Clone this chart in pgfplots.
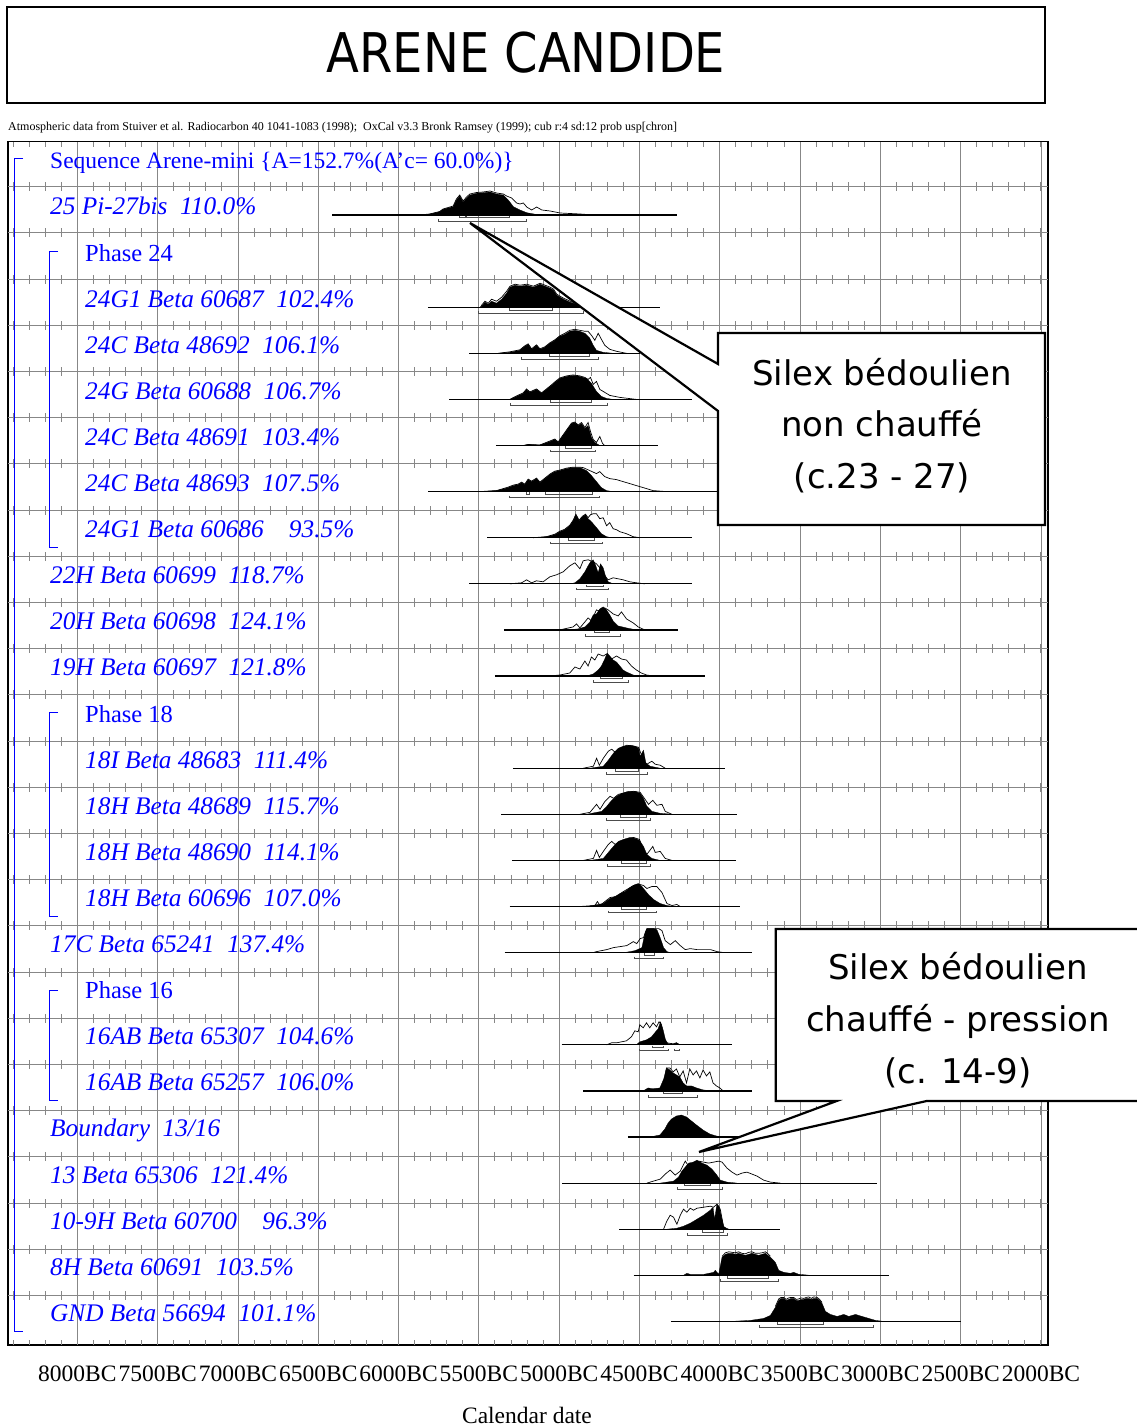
\documentclass[border=0pt]{standalone}
\usepackage{pgfplots}
\pgfplotsset{compat=1.18}
\usepackage{fontspec}
\setmainfont{Liberation Serif}
\newfontfamily\dv{DejaVu Sans}
\definecolor{gridc}{RGB}{135,135,135}
\pgfplotsset{
  rowy/.style={y filter/.expression={168.9+46.1*#1-y}},
  base/.style={black, line width=1.2pt},
  post/.style={fill=black, draw=black, line width=0.3pt},
  lik/.style={black, line width=0.7pt},
  rng/.style={black!70, line width=0.8pt},
}
\begin{document}
\begin{tikzpicture}[x=1pt,y=1pt]
\begin{axis}[
  scale only axis, width=1040pt, height=1203.3pt,
  xmin=1956, xmax=8432, x dir=reverse,
  ymin=141.7, ymax=1345, y dir=reverse,
  xtick={2000,2500,...,8000},
  xticklabels={2000BC,2500BC,3000BC,3500BC,4000BC,4500BC,5000BC,5500BC,6000BC,6500BC,7000BC,7500BC,8000BC},
  ytick=\empty,
  major tick length=0pt,
  xmajorgrids, grid style={gridc, line width=0.9pt},
  axis line style={black, line width=1.2pt},
  xticklabel style={font=\fontsize{23.5}{25}\selectfont, anchor=base, yshift=-36pt},
]
% row lines with 100-year ticks
\pgfplotsinvokeforeach{0,...,24}{
  \draw[gridc, line width=0.9pt] (axis cs:8432,{186.7+46.2*#1}) -- (axis cs:1956,{186.7+46.2*#1});
  \draw[gridc, line width=9pt, dash pattern=on 0.9pt off 15.159pt, dash phase=0.45pt] (axis cs:8400,{186.7+46.2*#1}) -- (axis cs:1960,{186.7+46.2*#1});
}
\draw[gridc, line width=5pt, dash pattern=on 0.9pt off 15.159pt, dash phase=0.45pt] (axis cs:8400,144.2) -- (axis cs:1960,144.2);
\draw[gridc, line width=5pt, dash pattern=on 0.9pt off 15.159pt, dash phase=0.45pt] (axis cs:8400,1342.5) -- (axis cs:1960,1342.5);

% ---- row 1: 25 Pi-27bis
\addplot[base,rowy=1] coordinates {(6414,0)(4269,0)};
\addplot[post,rowy=1] coordinates {(5869,0)(5806,1)(5744,3.3)(5723,5.7)(5660,8.3)(5640,15)(5619,19)(5598,13)(5577,16.7)(5556,20)(5515,21.7)(5473,22.3)(5431,23)(5390,21)(5348,20)(5317,15)(5285,8.3)(5244,5)(5202,2.3)(5140,0.5)(5077,0)};
\addplot[lik,rowy=1] coordinates {(5869,0)(5806,1)(5744,3.5)(5723,6)(5660,9)(5640,16)(5619,20)(5598,14)(5577,18)(5556,21)(5515,22.5)(5473,23)(5431,24)(5390,22)(5348,21)(5327,19)(5296,17)(5265,12)(5244,11)(5223,12)(5202,8)(5171,5)(5140,8)(5108,5)(5056,4)(4994,2)(4869,1)(4786,0)};
\addplot[rng,rowy=1] coordinates {(5623,-0.7)(5623,-2.7)(5583,-2.7)(5583,-0.7)};
\addplot[rng,rowy=1] coordinates {(5577,-0.7)(5577,-2.7)(5310,-2.7)(5310,-0.7)};
\addplot[rng,rowy=1] coordinates {(5754,-4)(5754,-6)(5202,-6)(5202,-4)};

% ---- row 3
\addplot[base,rowy=3] coordinates {(5817,0)(4373,0)};
\addplot[post,rowy=3] coordinates {(5490,0)(5483,1)(5462,5)(5442,3)(5421,6)(5390,4)(5358,8)(5327,14)(5306,20)(5275,22)(5244,21)(5202,22)(5160,20)(5119,23)(5088,21)(5056,19)(5035,17)(5015,12)(4973,8)(4931,5)(4869,2)(4827,0)};
\addplot[lik,rowy=3] coordinates {(5490,0)(5483,2)(5462,6)(5442,4)(5421,8)(5390,6)(5358,10)(5327,16)(5306,21)(5275,23)(5244,22)(5202,23)(5160,21)(5119,24)(5088,22)(5056,20)(5035,18)(5015,13)(4973,9)(4931,6)(4869,2)(4827,0)};
\addplot[rng,rowy=3] coordinates {(5313,-0.7)(5313,-2.7)(5044,-2.7)(5044,-0.7)};
\addplot[rng,rowy=3] coordinates {(5500,-4)(5500,-6)(4851,-6)(4851,-4)};

% ---- row 4
\addplot[base,rowy=4] coordinates {(5560,0)(4498,0)};
\addplot[post,rowy=4] coordinates {(5380,0)(5307,1)(5245,3)(5214,7)(5193,9)(5172,4)(5141,8)(5120,4)(5089,6)(5058,10)(5027,13)(4996,17)(4965,19)(4934,22)(4902,23)(4871,22)(4840,20)(4809,15)(4788,8)(4768,3)(4726,1)(4664,0)};
\addplot[lik,rowy=4] coordinates {(5380,0)(5307,1.5)(5245,3.5)(5214,7.5)(5193,9.5)(5172,4.5)(5141,8.5)(5120,4.5)(5089,6.5)(5058,10.5)(5027,13.5)(4996,17.5)(4965,20)(4934,23)(4902,24)(4871,23)(4840,22)(4820,22)(4799,18)(4778,13)(4757,20)(4737,14)(4716,8)(4685,4)(4643,2)(4581,0)};
\addplot[rng,rowy=4] coordinates {(5058,-0.7)(5058,-2.7)(4809,-2.7)(4809,-0.7)};
\addplot[rng,rowy=4] coordinates {(5234,-4)(5234,-6)(4757,-6)(4757,-4)};

% ---- row 5
\addplot[base,rowy=5] coordinates {(5685,0)(4170,0)};
\addplot[post,rowy=5] coordinates {(5307,0)(5266,3)(5224,6)(5203,10)(5183,7)(5141,10)(5110,6)(5079,10)(5048,14)(5027,17)(4996,21)(4954,23)(4913,24)(4871,23)(4830,21)(4799,16)(4768,8)(4737,3)(4705,1)(4664,0)};
\addplot[lik,rowy=5] coordinates {(5307,0)(5266,3.5)(5224,6.5)(5203,10.5)(5183,7.5)(5141,10.5)(5110,6.5)(5079,10.5)(5048,14.5)(5027,17.5)(4996,21.5)(4954,23.5)(4913,24.5)(4871,23.5)(4840,22)(4820,20)(4805,22)(4788,15)(4768,18)(4747,10)(4726,8)(4685,4)(4622,2)(4519,0)};
\addplot[rng,rowy=5] coordinates {(5052,-0.7)(5052,-2.7)(4799,-2.7)(4799,-0.7)};
\addplot[rng,rowy=5] coordinates {(5303,-4)(5303,-6)(4701,-6)(4701,-4)};

% ---- row 6
\addplot[base,rowy=6] coordinates {(5394,0)(4382,0)};
\addplot[post,rowy=6] coordinates {(5224,0)(5193,1)(5120,0.5)(5058,4)(5027,6)(5006,3)(4985,8)(4954,15)(4923,22)(4902,23)(4882,20)(4861,22)(4840,17)(4820,20)(4799,8)(4778,3)(4747,0)};
\addplot[lik,rowy=6] coordinates {(5224,0)(5193,1)(5120,0.5)(5058,4.5)(5027,6.5)(5006,3.5)(4985,8.5)(4954,15.5)(4923,22.5)(4902,23.5)(4882,20.5)(4861,23)(4840,18)(4820,23)(4805,14)(4788,6)(4768,3)(4747,9)(4730,2)(4716,0)};
\addplot[rng,rowy=6] coordinates {(4961,-0.7)(4961,-2.7)(4799,-2.7)(4799,-0.7)};
\addplot[rng,rowy=6] coordinates {(5052,-4)(5052,-6)(4772,-6)(4772,-4)};

% ---- row 7
\addplot[base,rowy=7] coordinates {(5815,0)(3900,0)};
\addplot[post,rowy=7] coordinates {(5494,0)(5390,1)(5317,4)(5286,6)(5255,7)(5234,9)(5214,7)(5193,12)(5172,10)(5141,13)(5120,9)(5089,13)(5058,17)(5027,20)(4996,21)(4954,23)(4913,24)(4871,24)(4830,21)(4799,16)(4768,10)(4737,4)(4705,1)(4664,0)};
\addplot[lik,rowy=7] coordinates {(5494,0)(5390,1)(5317,4.5)(5286,6.5)(5255,7.5)(5234,9.5)(5214,7.5)(5193,12.5)(5172,10.5)(5141,13.5)(5120,9.5)(5089,13.5)(5058,17.5)(5027,20.5)(4996,21.5)(4954,23.5)(4913,24.5)(4871,24.5)(4851,24)(4809,21)(4768,18)(4747,20)(4716,15)(4685,13)(4643,12)(4602,10)(4560,8)(4519,6)(4477,4)(4415,1)(4332,0)};
\addplot[rng,rowy=7] coordinates {(5083,-0.7)(5083,-2.7)(4793,-2.7)(4793,-0.7)};
\addplot[rng,rowy=7] coordinates {(5203,-0.7)(5203,-2.7)(5183,-2.7)(5183,-0.7)};
\addplot[rng,rowy=7] coordinates {(5307,-4)(5307,-6)(4747,-6)(4747,-4)};

% ---- row 8
\addplot[base,rowy=8] coordinates {(5448,0)(4170,0)};
\addplot[post,rowy=8] coordinates {(5162,0)(5079,1)(5027,3)(4996,6)(4965,8)(4934,12)(4913,17)(4896,23)(4876,17)(4855,21)(4836,23)(4820,19)(4799,16)(4778,12)(4757,8)(4737,4)(4705,1)(4674,0)};
\addplot[lik,rowy=8] coordinates {(5162,0)(5079,1)(5027,3.5)(4996,6.5)(4965,8.5)(4934,12.5)(4913,17.5)(4896,23.5)(4876,17.5)(4855,21.5)(4836,23.5)(4820,20)(4805,23)(4788,24)(4768,24)(4747,19)(4726,20)(4705,12)(4685,15)(4664,9)(4643,8)(4622,6)(4581,4)(4539,1)(4498,0)};
\addplot[rng,rowy=8] coordinates {(4944,-0.7)(4944,-2.7)(4782,-2.7)(4782,-0.7)};
\addplot[rng,rowy=8] coordinates {(5052,-4)(5052,-6)(4732,-6)(4732,-4)};

% ---- row 9
\addplot[base,rowy=9] coordinates {(5560,0)(4176,0)};
\addplot[lik,rowy=9] coordinates {(5307,0)(5234,1)(5203,4)(5172,1)(5141,3)(5100,2)(5058,7)(5017,9)(4975,12)(4934,18)(4902,21)(4871,15)(4851,23)(4820,24)(4788,22)(4768,20)(4747,16)(4726,10)(4695,4)(4664,6)(4633,5)(4602,4)(4560,2)(4519,1)(4467,0)};
\addplot[post,rowy=9] coordinates {(4934,0)(4902,1)(4871,5)(4840,12)(4820,18)(4805,22)(4788,24)(4772,18)(4757,11)(4743,20)(4726,16)(4712,8)(4695,2)(4664,0)};
\addplot[rng,rowy=9] coordinates {(4830,-0.7)(4830,-2.7)(4722,-2.7)(4722,-0.7)};
\addplot[rng,rowy=9] coordinates {(4892,-4)(4892,-6)(4691,-6)(4691,-4)};

% ---- row 10
\addplot[base,rowy=10] coordinates {(5344,0)(4259,0)};
\addplot[lik,rowy=10] coordinates {(4996,0)(4913,3)(4892,6)(4871,2)(4840,8)(4820,12)(4799,9)(4768,20)(4737,18)(4716,22)(4695,20)(4664,16)(4633,14)(4612,18)(4581,11)(4560,9)(4539,7)(4508,3)(4467,0)};
\addplot[post,rowy=10] coordinates {(4954,0)(4882,1)(4840,3)(4809,8)(4788,15)(4768,16)(4747,21)(4726,23)(4705,20)(4685,15)(4664,9)(4633,4)(4581,2)(4519,0)};
\addplot[rng,rowy=10] coordinates {(4782,-0.7)(4782,-2.7)(4689,-2.7)(4689,-0.7)};
\addplot[rng,rowy=10] coordinates {(4834,-4)(4834,-6)(4618,-6)(4618,-4)};

% ---- row 11
\addplot[base,rowy=11] coordinates {(5400,0)(4089,0)};
\addplot[lik,rowy=11] coordinates {(5058,0)(4996,1)(4934,3)(4902,9)(4871,7)(4840,15)(4820,10)(4799,19)(4778,16)(4757,22)(4726,20)(4705,22)(4674,17)(4643,20)(4612,17)(4581,16)(4550,10)(4519,6)(4488,3)(4456,1)(4415,0)};
\addplot[post,rowy=11] coordinates {(4830,0)(4788,2)(4757,6)(4737,10)(4716,17)(4701,23)(4685,20)(4664,16)(4643,14)(4622,10)(4602,6)(4581,4)(4539,1)(4498,0)};
\addplot[rng,rowy=11] coordinates {(4743,-0.7)(4743,-2.7)(4608,-2.7)(4608,-0.7)};
\addplot[rng,rowy=11] coordinates {(4784,-4)(4784,-6)(4571,-6)(4571,-4)};

% ---- row 13
\addplot[base,rowy=13] coordinates {(5288,0)(3965,0)};
\addplot[lik,rowy=13] coordinates {(4850,0)(4787,2)(4767,10)(4750,3)(4725,10)(4694,17)(4673,19)(4652,16)(4621,20)(4579,23)(4538,22)(4506,21)(4475,8)(4454,4)(4423,7)(4402,4)(4371,3)(4340,0)};
\addplot[post,rowy=13] coordinates {(4808,0)(4725,2)(4694,8)(4662,15)(4631,20)(4600,22)(4558,23)(4527,22)(4506,20)(4496,12)(4475,18)(4460,5)(4433,2)(4371,0)};
\addplot[rng,rowy=13] coordinates {(4652,-0.7)(4652,-2.7)(4506,-2.7)(4506,-0.7)};
\addplot[rng,rowy=13] coordinates {(4708,-4)(4708,-6)(4450,-6)(4450,-4)};

% ---- row 14
\addplot[base,rowy=14] coordinates {(5360,0)(3892,0)};
\addplot[lik,rowy=14] coordinates {(4871,0)(4808,2)(4767,10)(4746,5)(4715,13)(4683,18)(4662,16)(4631,20)(4579,22)(4538,23)(4496,22)(4465,15)(4444,10)(4417,14)(4392,9)(4360,10)(4340,3)(4298,0)};
\addplot[post,rowy=14] coordinates {(4829,0)(4735,3)(4704,8)(4673,14)(4642,18)(4610,21)(4569,23)(4527,23)(4496,21)(4475,16)(4454,8)(4423,3)(4371,1)(4288,0)};
\addplot[rng,rowy=14] coordinates {(4621,-0.7)(4621,-2.7)(4458,-2.7)(4458,-0.7)};
\addplot[rng,rowy=14] coordinates {(4708,-4)(4708,-6)(4429,-6)(4429,-4)};

% ---- row 15
\addplot[base,rowy=15] coordinates {(5294,0)(3902,0)};
\addplot[lik,rowy=15] coordinates {(4850,0)(4787,2)(4767,10)(4750,3)(4725,9)(4694,16)(4673,19)(4652,16)(4621,19)(4579,21)(4538,23)(4500,21)(4475,10)(4454,6)(4417,14)(4402,8)(4371,9)(4340,2)(4298,0)};
\addplot[post,rowy=15] coordinates {(4808,0)(4725,2)(4694,8)(4662,14)(4631,19)(4600,21)(4558,23)(4527,22)(4500,20)(4475,14)(4454,6)(4423,2)(4371,0)};
\addplot[rng,rowy=15] coordinates {(4610,-0.7)(4610,-2.7)(4460,-2.7)(4460,-0.7)};
\addplot[rng,rowy=15] coordinates {(4700,-4)(4700,-6)(4429,-6)(4429,-4)};

% ---- row 16
\addplot[base,rowy=16] coordinates {(5308,0)(3871,0)};
\addplot[lik,rowy=16] coordinates {(4871,0)(4777,1)(4762,5)(4746,1)(4715,5)(4683,9)(4642,10)(4610,14)(4579,17)(4538,21)(4496,22)(4475,21)(4454,18)(4423,20)(4392,20)(4360,14)(4329,3)(4298,1)(4267,2)(4246,0)};
\addplot[post,rowy=16] coordinates {(4829,0)(4725,3)(4683,8)(4652,10)(4621,13)(4590,15)(4558,19)(4527,22)(4506,23)(4485,20)(4465,16)(4444,12)(4412,7)(4371,3)(4329,1)(4288,0)};
\addplot[rng,rowy=16] coordinates {(4610,-0.7)(4610,-2.7)(4454,-2.7)(4454,-0.7)};
\addplot[rng,rowy=16] coordinates {(4694,-4)(4694,-6)(4396,-6)(4396,-4)};

% ---- row 17
\addplot[base,rowy=17] coordinates {(5340,0)(3800,0)};
\addplot[lik,rowy=17] coordinates {(4788,0)(4767,1)(4704,3)(4662,5)(4621,6)(4579,7)(4538,11)(4517,9)(4496,14)(4475,15)(4454,24)(4412,24)(4381,24)(4360,22)(4340,12)(4308,8)(4277,12)(4246,7)(4215,3)(4183,4)(4142,3)(4100,3)(4058,3)(4017,1)(3975,0)};
\addplot[post,rowy=17] coordinates {(4600,0)(4558,1)(4527,2)(4485,5)(4465,20)(4454,24)(4412,24)(4392,23)(4371,15)(4350,5)(4329,1)(4308,0)};
\addplot[rng,rowy=17] coordinates {(4471,-0.7)(4471,-2.7)(4408,-2.7)(4408,-0.7)};
\addplot[rng,rowy=17] coordinates {(4533,-4)(4533,-6)(4350,-6)(4350,-4)};

% ---- row 19
\addplot[base,rowy=19] coordinates {(4985,0)(3921,0)};
\addplot[lik,rowy=19] coordinates {(4705,0)(4674,2)(4643,2)(4612,3)(4581,4)(4550,8)(4529,14)(4508,13)(4498,20)(4477,17)(4456,22)(4436,17)(4415,22)(4394,18)(4378,23)(4363,20)(4349,8)(4332,2)(4290,1)(4270,2)(4249,0)};
\addplot[post,rowy=19] coordinates {(4519,0)(4498,3)(4456,5)(4425,8)(4405,12)(4384,16)(4369,23)(4353,15)(4338,5)(4322,1)(4290,0.5)(4270,2)(4249,0)};
\addplot[rng,rowy=19] coordinates {(4421,-0.7)(4421,-2.7)(4349,-2.7)(4349,-0.7)};
\addplot[rng,rowy=19] coordinates {(4498,-4)(4498,-6)(4322,-6)(4322,-4)};
\addplot[rng,rowy=19] coordinates {(4284,-4)(4284,-6)(4253,-6)(4253,-4)};

% ---- row 20
\addplot[base,rowy=20] coordinates {(4851,0)(3800,0)};
\addplot[lik,rowy=20] coordinates {(4456,0)(4415,2)(4353,2)(4332,23)(4311,23)(4290,19)(4270,22)(4249,14)(4228,20)(4207,8)(4187,22)(4166,16)(4145,20)(4124,13)(4104,21)(4083,15)(4062,19)(4042,8)(4021,5)(4000,3)(3979,0)};
\addplot[post,rowy=20] coordinates {(4477,0)(4446,3)(4415,2)(4373,3)(4349,12)(4332,23)(4311,21)(4290,18)(4270,16)(4249,14)(4228,8)(4207,5)(4176,5)(4145,3)(4104,1)(4042,0)};
\addplot[rng,rowy=20] coordinates {(4353,-0.7)(4353,-2.7)(4232,-2.7)(4232,-0.7)};
\addplot[rng,rowy=20] coordinates {(4442,-4)(4442,-6)(4141,-6)(4141,-4)};

% ---- row 21 boundary
\addplot[base,rowy=21] coordinates {(4572,0)(3880,0)};
\addplot[post,rowy=21] coordinates {(4436,0)(4373,2)(4342,8)(4322,14)(4301,18)(4270,21)(4239,22)(4207,20)(4176,16)(4145,12)(4104,7)(4062,3)(4021,1)(3990,0)};

% ---- row 22
\addplot[base,rowy=22] coordinates {(4980,0)(3020,0)};
\addplot[lik,rowy=22] coordinates {(4454,0)(4413,2)(4371,4)(4340,9)(4309,13)(4278,8)(4246,12)(4215,22)(4194,17)(4163,21)(4132,22)(4101,21)(4070,20)(4038,21)(4007,22)(3986,21)(3955,15)(3924,11)(3893,8)(3862,10)(3831,11)(3799,9)(3768,7)(3727,3)(3685,1)(3623,0)};
\addplot[post,rowy=22] coordinates {(4371,0)(4288,2)(4257,6)(4236,12)(4215,16)(4194,20)(4163,21)(4142,23)(4111,20)(4080,18)(4049,14)(4018,8)(3997,3)(3955,1)(3893,0)};
\addplot[rng,rowy=22] coordinates {(4219,-0.7)(4219,-2.7)(4059,-2.7)(4059,-0.7)};
\addplot[rng,rowy=22] coordinates {(4261,-4)(4261,-6)(3986,-6)(3986,-4)};

% ---- row 23
\addplot[base,rowy=23] coordinates {(4625,0)(3623,0)};
\addplot[lik,rowy=23] coordinates {(4350,0)(4330,8)(4309,14)(4288,12)(4267,5)(4246,14)(4226,20)(4205,17)(4184,21)(4163,19)(4142,21)(4101,22)(4059,23)(4038,22)(4018,25)(3997,20)(3976,2)(3945,0)};
\addplot[post,rowy=23] coordinates {(4330,0)(4267,1)(4226,3)(4184,6)(4142,10)(4101,14)(4059,19)(4042,22)(4032,10)(4018,25)(4005,23)(3993,15)(3976,3)(3955,0)};
\addplot[rng,rowy=23] coordinates {(4111,-0.7)(4111,-2.7)(3976,-2.7)(3976,-0.7)};
\addplot[rng,rowy=23] coordinates {(4201,-4)(4201,-6)(3955,-6)(3955,-4)};

% ---- row 24
\addplot[base,rowy=24] coordinates {(4537,0)(2947,0)};
\addplot[post,rowy=24] coordinates {(4226,0)(4205,2)(4184,1)(4100,1)(4038,3)(4028,5)(4007,1)(3986,18)(3965,21)(3944,22)(3924,22)(3903,21)(3883,22)(3862,21)(3841,20)(3820,21)(3799,22)(3779,21)(3758,20)(3737,21)(3716,22)(3700,20)(3685,18)(3654,13)(3633,5)(3602,3)(3560,2)(3540,3)(3508,1)(3436,0)};
\addplot[lik,rowy=24] coordinates {(3986,19)(3965,22.5)(3944,23.5)(3924,23)(3903,22.5)(3883,23.5)(3862,22)(3841,21.5)(3820,23)(3799,23.5)(3779,22)(3758,22)(3737,22.5)(3716,23.5)(3700,21.5)(3685,19)};
\addplot[rng,rowy=24] coordinates {(3951,-0.7)(3951,-2.7)(3695,-2.7)(3695,-0.7)};
\addplot[rng,rowy=24] coordinates {(3997,-4)(3997,-6)(3637,-6)(3637,-4)};

% ---- row 25
\addplot[base,rowy=25] coordinates {(4305,0)(2500,0)};
\addplot[post,rowy=25] coordinates {(3934,0)(3810,1)(3727,3)(3685,6)(3654,14)(3633,21)(3618,23)(3602,23)(3587,21)(3571,22)(3556,23)(3540,23)(3524,21)(3508,21)(3493,22)(3477,22)(3461,23)(3446,23)(3430,22)(3415,23)(3394,23)(3378,21)(3363,18)(3342,10)(3311,7)(3290,6)(3269,5)(3248,6)(3228,7)(3212,6)(3197,5)(3176,6)(3155,7)(3135,6)(3114,5)(3093,4)(3072,3)(3030,1)(2978,0)};
\addplot[lik,rowy=25] coordinates {(3654,15)(3633,22.5)(3618,24)(3602,24)(3587,22)(3571,23.5)(3556,24)(3540,24)(3524,22)(3508,22.5)(3493,23.5)(3477,23)(3461,24)(3446,24.5)(3430,23)(3415,24.5)(3394,24)(3378,22)(3363,19)};
\addplot[rng,rowy=25] coordinates {(3639,-0.7)(3639,-2.7)(3357,-2.7)(3357,-0.7)};
\addplot[rng,rowy=25] coordinates {(3752,-4)(3752,-6)(3045,-6)(3045,-4)};

\coordinate (O) at (axis cs:8481.9,1428);
\end{axis}

\begin{scope}[shift={(O)}]
% title box and caption
\draw[line width=2pt] (7,1325) rectangle (1045,1421);
\node[anchor=base, inner sep=0, font=\dv\fontsize{48}{50}\selectfont] at (526,1355) {\scalebox{1}[1.14]{ARENE CANDIDE}};
\node[anchor=base west, inner sep=0, font=\fontsize{12}{14}\selectfont] at (8,1297) {Atmospheric data from Stuiver et al. Radiocarbon 40 1041-1083 (1998);\ \ OxCal v3.3 Bronk Ramsey (1999); cub r:4 sd:12 prob usp[chron]};
\node[anchor=base, inner sep=0, font=\fontsize{23.5}{25}\selectfont] at (527,5) {Calendar date};

% brackets
\begin{scope}[blue, line width=1pt]
\draw (23,1269) -- (14,1269) -- (14,96.5) -- (23,96.5);
\draw (58,1176) -- (49.3,1176) -- (49.3,880.2) -- (58,880.2);
\draw (58,715) -- (49.3,715) -- (49.3,511.4) -- (58,511.4);
\draw (58,437.2) -- (49.3,437.2) -- (49.3,327) -- (58,327);
\end{scope}

% labels
\begin{scope}[every node/.style={anchor=base west, inner sep=0, text=blue, font=\fontsize{25.3}{28}\selectfont}]
\node[font=\fontsize{23.5}{28}\selectfont] at (50,1259.1) {Sequence Arene-mini \{A=152.7\%(A'c= 60.0\%)\}};
\node at (50,1213.0) {\itshape 25 Pi-27bis\ \ 110.0\%};
\node[font=\fontsize{24.5}{28}\selectfont] at (85,1166.9) {Phase 24};
\node at (85,1120.8) {\itshape 24G1 Beta 60687\ \ 102.4\%};
\node at (85,1074.7) {\itshape 24C Beta 48692\ \ 106.1\%};
\node at (85,1028.6) {\itshape 24G Beta 60688\ \ 106.7\%};
\node at (85,982.5) {\itshape 24C Beta 48691\ \ 103.4\%};
\node at (85,936.4) {\itshape 24C Beta 48693\ \ 107.5\%};
\node at (85,890.3) {\itshape 24G1 Beta 60686\ \ \ \ 93.5\%};
\node at (50,844.2) {\itshape 22H Beta 60699\ \ 118.7\%};
\node at (50,798.1) {\itshape 20H Beta 60698\ \ 124.1\%};
\node at (50,752.0) {\itshape 19H Beta 60697\ \ 121.8\%};
\node[font=\fontsize{24.5}{28}\selectfont] at (85,705.9) {Phase 18};
\node at (85,659.8) {\itshape 18I Beta 48683\ \ 111.4\%};
\node at (85,613.7) {\itshape 18H Beta 48689\ \ 115.7\%};
\node at (85,567.6) {\itshape 18H Beta 48690\ \ 114.1\%};
\node at (85,521.5) {\itshape 18H Beta 60696\ \ 107.0\%};
\node at (50,475.4) {\itshape 17C Beta 65241\ \ 137.4\%};
\node[font=\fontsize{24.5}{28}\selectfont] at (85,429.3) {Phase 16};
\node at (85,383.2) {\itshape 16AB Beta 65307\ \ 104.6\%};
\node at (85,337.1) {\itshape 16AB Beta 65257\ \ 106.0\%};
\node at (50,291.0) {\itshape Boundary\ \ 13/16};
\node at (50,244.9) {\itshape 13 Beta 65306\ \ 121.4\%};
\node at (50,198.8) {\itshape 10-9H Beta 60700\ \ \ \ 96.3\%};
\node at (50,152.7) {\itshape 8H Beta 60691\ \ 103.5\%};
\node at (50,106.6) {\itshape GND Beta 56694\ \ 101.1\%};
\end{scope}

% callouts
\draw[line width=2.2pt, fill=white, line join=miter] (718,1095) -- (1045,1095) -- (1045,903) -- (718,903) -- (718,1017) -- (470,1205) -- (718,1064) -- cycle;
\begin{scope}[every node/.style={anchor=base, inner sep=0, font=\dv\fontsize{34}{40}\selectfont}]
\node at (882,1042) {Silex bédoulien};
\node at (882,991) {non chauffé};
\node at (882,939) {(c.23 - 27)};
\end{scope}
\draw[line width=2.2pt, fill=white, line join=miter] (775.7,499) -- (1145,499) -- (1145,327) -- (926.7,327) -- (699,276) -- (836.7,327) -- (775.7,327) -- cycle;
\begin{scope}[every node/.style={anchor=base, inner sep=0, font=\dv\fontsize{34}{40}\selectfont}]
\node at (958,448) {Silex bédoulien};
\node at (958,396) {chauffé - pression};
\node at (958,344) {(c. 14-9)};
\end{scope}
\pgfresetboundingbox
\useasboundingbox (0,0) rectangle (1136,1428);
\end{scope}
\end{tikzpicture}
\end{document}
